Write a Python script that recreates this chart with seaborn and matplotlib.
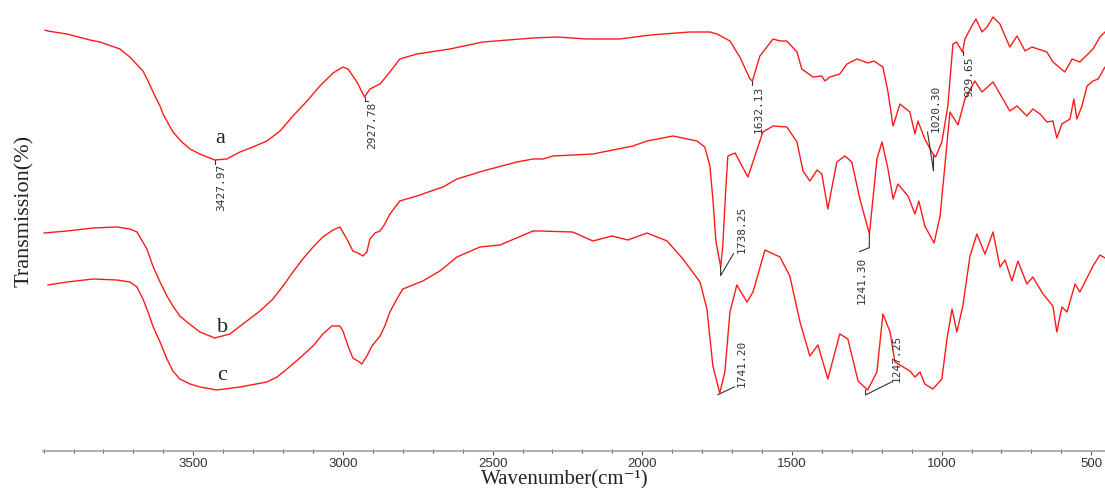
import numpy as np
import pandas as pd
import matplotlib
matplotlib.use("Agg")
import matplotlib.pyplot as plt
import seaborn as sns
from matplotlib.ticker import MultipleLocator
from matplotlib.lines import Line2D
from matplotlib.transforms import IdentityTransform

# ---------------- data ----------------
wn_a = [3996, 3986, 3922, 3845, 3812, 3745, 3712, 3668, 3651, 3628, 3611, 3601, 3568, 3538,
        3511, 3478, 3428, 3388, 3344, 3301, 3254, 3210, 3167, 3120, 3077, 3033, 3000, 2983,
        2953, 2928, 2910, 2876, 2843, 2810, 2753, 2643, 2532, 2365, 2285, 2185, 2075, 1974,
        1841, 1774, 1750, 1707, 1674, 1640, 1632, 1607, 1563, 1540, 1517, 1483, 1467, 1430,
        1400, 1390, 1373, 1340, 1316, 1283, 1246, 1226, 1196, 1179, 1162, 1139, 1106, 1089,
        1079, 1056, 1029, 1020, 999, 979, 962, 950, 930, 922, 899, 885, 865, 848, 828, 805,
        772, 748, 721, 698, 648, 628, 588, 564, 538, 494, 471, 454]
t_a = [421, 420, 417, 411, 409, 402, 394, 380, 370, 355, 345, 337, 319, 309,
       302, 297, 291, 292, 299, 304, 310, 320, 335, 350, 365, 378, 384, 382,
       369, 354, 362, 367, 379, 392, 397, 402, 409, 413, 414, 412, 412, 416,
       419, 419, 417, 410, 394, 372, 370, 395, 412, 410, 410, 399, 382, 374,
       375, 370, 374, 377, 387, 392, 388, 390, 384, 359, 325, 347, 339, 317,
       330, 312, 297, 294, 309, 345, 407, 409, 399, 412, 425, 432, 419, 424, 434, 427,
       404, 415, 400, 404, 399, 389, 379, 392, 389, 402, 414, 419]

wn_b = [3999, 3922, 3835, 3755, 3712, 3688, 3655, 3635, 3611, 3588, 3568, 3545, 3521, 3478,
        3428, 3378, 3321, 3277, 3234, 3200, 3167, 3134, 3100, 3067, 3043, 3033, 3010, 2983,
        2967, 2950, 2933, 2920, 2910, 2893, 2876, 2860, 2843, 2810, 2753, 2666, 2619, 2532,
        2419, 2365, 2332, 2298, 2165, 2031, 1984, 1897, 1817, 1791, 1774, 1764, 1754, 1738,
        1731, 1721, 1714, 1690, 1647, 1597, 1563, 1517, 1483, 1463, 1440, 1416, 1400, 1380,
        1350, 1323, 1300, 1273, 1241, 1216, 1199, 1179, 1162, 1146, 1112, 1089, 1076, 1056,
        1025, 1005, 989, 972, 945, 922, 889, 865, 828, 795, 772, 748, 715, 695, 671, 648,
        628, 615, 598, 571, 558, 548, 531, 514, 494, 477, 454]
t_b = [218, 220, 223, 224, 222, 219, 202, 185, 169, 155, 145, 135, 129, 119,
       113, 117, 130, 140, 152, 165, 179, 192, 204, 214, 219, 221, 224, 210,
       200, 198, 195, 199, 212, 218, 220, 227, 237, 250, 255, 264, 272, 280,
       289, 292, 292, 295, 297, 305, 310, 315, 310, 304, 285, 252, 210, 184,
       205, 262, 295, 298, 274, 319, 325, 324, 309, 280, 270, 281, 277, 242,
       289, 295, 289, 252, 217, 292, 309, 282, 252, 267, 255, 237, 250, 225,
       208, 235, 285, 339, 326, 352, 370, 359, 369, 352, 340, 345, 335, 342, 337, 329,
       330, 313, 327, 332, 352, 332, 345, 365, 370, 372, 384]

wn_c = [3986, 3922, 3835, 3755, 3712, 3688, 3668, 3651, 3635, 3611, 3588, 3568, 3545, 3511,
        3478, 3421, 3344, 3254, 3220, 3187, 3144, 3100, 3067, 3037, 3010, 3000, 2983, 2967,
        2950, 2937, 2920, 2903, 2876, 2860, 2843, 2820, 2800, 2733, 2676, 2619, 2542, 2475,
        2365, 2342, 2232, 2165, 2101, 2048, 1984, 1917, 1864, 1807, 1784, 1764, 1741, 1724,
        1707, 1684, 1650, 1630, 1590, 1540, 1507, 1473, 1440, 1413, 1380, 1340, 1313, 1279,
        1247, 1216, 1196, 1172, 1156, 1106, 1089, 1072, 1056, 1029, 999, 982, 965, 949, 929,
        905, 882, 855, 828, 805, 788, 765, 745, 715, 695, 661, 628, 615, 598, 581, 554, 538,
        494, 471, 454]
t_c = [166, 169, 172, 171, 169, 164, 152, 139, 125, 109, 92, 80, 72, 67,
       64, 61, 64, 69, 74, 82, 93, 105, 117, 125, 125, 120, 105, 93,
       90, 87, 95, 105, 115, 125, 139, 152, 162, 170, 180, 194, 204, 206,
       220, 220, 219, 210, 215, 211, 218, 210, 192, 169, 142, 85, 58, 79,
       139, 166, 149, 159, 201, 194, 175, 129, 95, 106, 72, 117, 112, 70,
       61, 79, 137, 119, 89, 80, 74, 79, 67, 62, 72, 112, 142, 119, 145,
       195, 217, 197, 219, 184, 191, 170, 190, 167, 174, 157, 145, 119, 144, 139, 167, 159,
       185, 196, 193]

sample_names = ["a", "b", "c"]
x_tick_values = [3500, 3000, 2500, 2000, 1500, 1000, 500]

peak_wn = [3427.97, 2927.78, 1632.13, 1020.30, 929.65, 1738.25, 1241.30, 1741.20, 1247.25]
peak_curve = ["a", "a", "a", "a", "a", "b", "b", "c", "c"]
peak_text = ["3427.97", "2927.78", "1632.13", "1020.30", "929.65",
             "1738.25", "1241.30", "1741.20", "1247.25"]

# ---------------- layout / style ----------------
curve_label_pos = {"a": (3411, 309), "b": (3401, 120), "c": (3404, 72)}
# leader paths & text offsets in image pixels (dx right, dy down) relative to peak
peak_leaders = [
    [(0, 0), (0, 4)],
    [(0, 0), (0, 4), (3, 4)],
    [(0, 0), (0, 4)],
    [(-2, -1), (-2, 14), (-8, -25)],
    [(0, 0), (0, 4)],
    [(0, 0), (0, 9), (13, -13)],
    [(0, 0), (0, 14), (-10, 18)],
    [(-2, 2), (15, -6)],
    [(-2, 0), (-2, 5), (24, -8)],
]
peak_text_off = [(6, 3, "top"), (8, 4, "top"), (6, 4, "top"), (0, -26, "bottom"),
                 (7, 4, "top"), (21, -15, "bottom"), (-8, 22, "top"),
                 (22, -7, "bottom"), (29, -9, "bottom")]

sns.set_theme(style="white")
plt.rcParams["font.family"] = ["Liberation Serif", "DejaVu Serif"]

W, H = 1105, 489
fig = plt.figure(figsize=(W / 100, H / 100), dpi=100)
fig.patch.set_facecolor("white")
ax = fig.add_axes([43 / W, 37 / H, 1062 / W, 452 / H])
ax.set_facecolor("white")

df = pd.concat([
    pd.DataFrame({"wn": wn_a, "T": t_a, "sample": "a"}),
    pd.DataFrame({"wn": wn_b, "T": t_b, "sample": "b"}),
    pd.DataFrame({"wn": wn_c, "T": t_c, "sample": "c"}),
], ignore_index=True)

sns.lineplot(data=df, x="wn", y="T", hue="sample",
             palette={"a": "#ff1a1a", "b": "#ff1a1a", "c": "#ff1a1a"},
             estimator=None, legend=False, linewidth=1.0, ax=ax)

ax.set_xlim(4002, 454)
ax.set_ylim(0, 452)
for s in ["left", "top", "right"]:
    ax.spines[s].set_visible(False)
ax.spines["bottom"].set_color("#a8a8a8")
ax.spines["bottom"].set_linewidth(1.3)
ax.set_yticks([])
ax.set_xticks(x_tick_values)
ax.xaxis.set_minor_locator(MultipleLocator(100))
ax.tick_params(axis="x", which="major", direction="out", length=3, width=0.8,
               color="#555555", labelsize=9.5, labelcolor="#333333", pad=1.5, bottom=True)
ax.tick_params(axis="x", which="minor", direction="inout", length=3, width=0.8,
               color="#555555", bottom=True)
for lab in ax.get_xticklabels():
    lab.set_family("Liberation Sans")

ax.set_xlabel("Wavenumber(cm\u207b\u00b9)", fontsize=15, color="#222222", va="baseline",
              family=["Liberation Serif", "DejaVu Serif"])
ax.xaxis.set_label_coords((565 - 43) / 1062, (452 - 484) / 452)
ax.set_ylabel("Transmission(%)", fontsize=16, color="#222222", va="center")
ax.yaxis.set_label_coords((24 - 43) / 1062, (452 - 211) / 452)

# curve letters
for name in sample_names:
    x, y = curve_label_pos[name]
    ax.text(x, y, name, ha="center", va="baseline", fontsize=16, color="#222222")

curves = {"a": (wn_a, t_a), "b": (wn_b, t_b), "c": (wn_c, t_c)}
for wn, cname, txt, path, (tdx, tdy, va) in zip(peak_wn, peak_curve, peak_text,
                                                 peak_leaders, peak_text_off):
    xs, ts = curves[cname]
    order = np.argsort(xs)
    t_val = float(np.interp(wn, np.asarray(xs)[order], np.asarray(ts)[order]))
    X, Y = ax.transData.transform((wn, t_val))
    fig.add_artist(Line2D([X + dx for dx, dy in path], [Y - dy for dx, dy in path],
                          transform=IdentityTransform(), color="#333333", lw=0.8))
    ax.annotate(txt, xy=(wn, t_val), xytext=(tdx, -tdy), textcoords="offset pixels",
                rotation=90, ha="center", va=va, fontsize=8,
                family="DejaVu Sans Mono", color="#333333")

fig.savefig("out.png", dpi=100, facecolor="white")
